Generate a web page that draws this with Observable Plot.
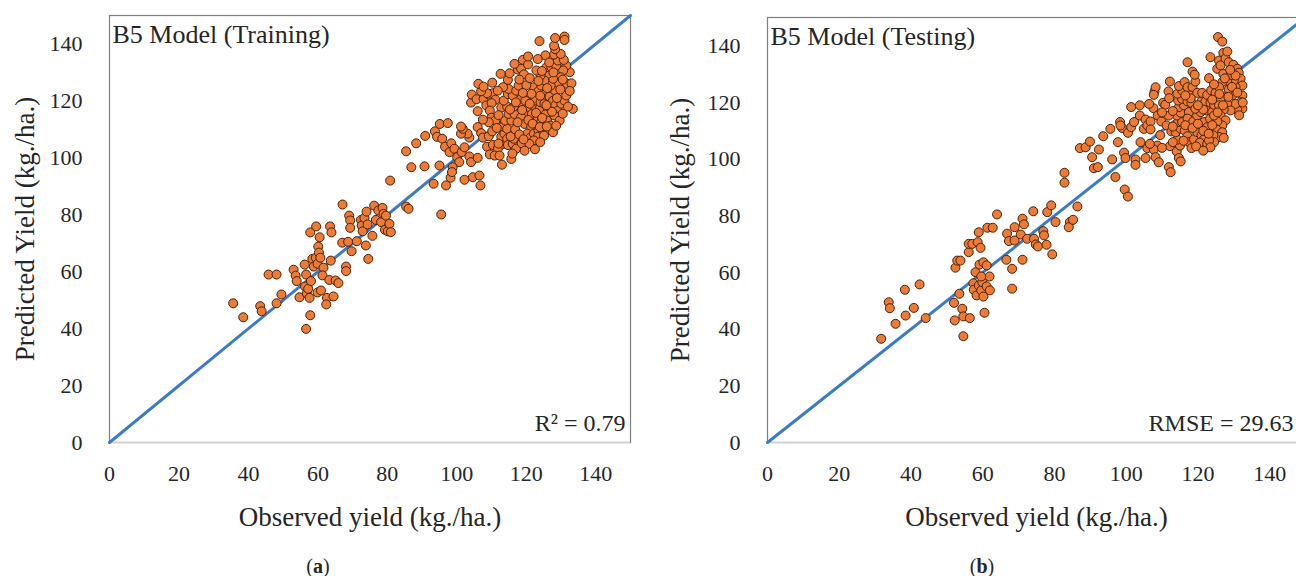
<!DOCTYPE html>
<html><head><meta charset="utf-8">
<script src="https://cdn.jsdelivr.net/npm/d3@7"></script>
<script src="https://cdn.jsdelivr.net/npm/@observablehq/plot@0.6"></script>
<style>
body{margin:0;width:1296px;height:576px;overflow:hidden;background:#fff;position:relative;font-family:"Liberation Serif",serif;color:#262626}
#a,#b{position:absolute;top:0}
#a{left:0px;width:650px}
#b{left:660px;width:660px}
svg{max-width:none !important}
.cap{position:absolute;top:555px;font-size:20px;transform:translateX(-50%);line-height:22px}
</style></head><body>
<div id="a"></div><div id="b"></div>
<div class="cap" style="left:318px">(<b>a</b>)</div>
<div class="cap" style="left:982px">(<b>b</b>)</div>
<script>
const xTicks = [0, 20, 40, 60, 80, 100, 120, 140];
const yTicks = [0, 20, 40, 60, 80, 100, 120, 140];
const refLineX = [0, 150];
const refLineY = [0, 150];
const xTitle = "Observed yield (kg./ha.)";
const yTitle = "Predicted Yield (kg./ha.)";
const titleA = "B5 Model (Training)";
const titleB = "B5 Model (Testing)";
const statA = "R² = 0.79";
const statB = "RMSE = 29.63";

const trainObserved = [35.6,38.5,43.4,43.8,45.8,48.1,48.1,49.5,53.0,53.6,53.9,54.7,56.2,56.3,56.6,56.8,57.2,57.6,58.0,56.6,57.8,58.4,58.8,59.4,59.9,60.1,60.3,60.7,61.6,61.3,59.9,60.9,62.6,62.4,63.3,64.5,65.1,65.9,63.7,57.8,59.5,60.5,63.5,63.9,67.1,67.0,68.7,69.0,69.3,69.3,69.7,68.1,68.1,71.2,72.4,72.6,72.9,73.4,74.0,74.3,73.8,74.5,75.7,76.2,76.7,77.4,78.2,78.6,78.9,79.6,79.3,80.1,80.6,81.0,80.8,85.4,86.1,86.9,90.7,93.3,95.0,95.5,
85.4,88.3,90.9,93.7,95.1,97.4,94.3,95.8,96.6,98.4,97.9,99.3,100.1,100.7,101.4,102.2,98.8,98.2,98.6,96.9,102.2,104.6,106.5,106.8,103.6,104.1,106.0,103.6,103.1,101.2,101.7,101.2,106.0,107.0,106.0,104.1,104.3,105.7,107.7,108.5,109.2,110.4,111.1,110.0,110.2,109.5,110.0,111.1,109.2,107.5,107.5,109.2,110.2,108.7,110.4,111.8,113.3,109.5,110.9,113.0,115.7,112.3,112.8,113.7,114.5,114.7,116.1,117.1,116.4,118.7,113.3,114.5,113.9,115.7,114.9,116.6,112.8,114.5,116.4,113.5,114.7,116.1,114.9,117.1,117.8,114.7,115.2,112.6,117.6,118.5,119.0,120.5,119.3,118.3,119.0,119.7,120.3,120.9,121.6,118.5,119.5,120.6,121.4,120.3,121.2,122.2,122.9,123.3,124.3,123.5,124.8,123.3,122.2,120.9,122.6,123.8,122.4,124.1,125.2,126.2,126.7,125.5,126.0,127.0,126.2,127.7,125.1,122.2,123.5,124.3,125.5,126.7,127.7,128.3,129.1,128.1,129.6,128.6,130.1,131.0,131.5,133.4,131.8,133.0,132.5,131.5,130.6,129.9,129.1,128.3,127.0,127.7,126.2,125.2,124.1,122.9,125.8,127.2,128.6,129.1,130.8,128.0,129.9,128.3,128.0,131.0,128.3,131.0,123.8,125.5,123.3,120.5,116.6,113.3,111.8,108.7,107.0,106.2,107.7,
115.5,116.8,118.0,119.2,117.5,118.8,121.8,122.8,123.9,125.9,124.6,127.4,125.8,124.0,121.5,120.0,121.0,123.5,126.0,128.8,129.8,130.5,127.8,126.6,124.5,119.0,117.0,115.3,112.0,111.5,112.0,116.0,119.5,122.5,124.0,121.0,118.0,130.5,132.0,132.5];
const trainPredicted = [48.9,44.0,47.9,46.1,59.0,59.0,48.9,52.0,60.7,58.6,56.7,51.0,62.5,54.8,59.0,52.4,54.0,50.8,56.7,39.9,44.7,64.5,61.8,64.9,62.8,68.8,66.7,64.9,61.4,58.7,52.7,53.4,50.8,48.5,57.1,51.3,56.9,56.0,63.9,73.8,75.9,72.1,75.9,73.8,83.6,70.2,70.5,79.7,78.0,75.4,67.2,61.8,60.2,70.7,78.2,76.2,74.2,78.9,81.1,76.6,69.2,64.5,72.6,83.2,78.2,81.5,77.4,82.4,80.3,79.7,74.7,74.2,76.8,73.9,92.0,82.9,82.1,96.7,97.0,90.9,97.3,80.1,
102.3,105.1,107.7,109.3,111.9,112.2,107.4,106.7,103.9,105.1,102.0,103.2,100.2,98.5,102.0,103.7,96.7,93.0,95.0,90.3,92.3,93.2,93.8,90.3,100.5,98.5,100.0,107.1,108.5,108.5,110.2,111.0,110.8,108.7,116.4,119.4,122.2,120.6,120.7,118.4,122.2,122.7,120.4,119.2,126.4,116.6,114.1,113.1,112.5,113.4,107.1,107.6,109.3,103.9,104.5,103.2,104.9,101.2,100.8,97.6,99.6,100.8,107.4,108.5,106.7,104.5,104.9,103.2,106.7,105.1,111.0,110.2,113.1,113.1,115.4,115.4,117.7,118.0,118.0,120.1,122.4,121.9,124.2,123.6,125.4,127.4,129.7,129.5,131.0,131.3,134.4,132.8,129.3,120.4,118.4,120.1,116.0,117.8,115.4,114.3,111.9,113.3,110.9,108.5,107.1,108.5,111.9,114.3,112.6,109.6,109.6,107.4,106.1,104.9,118.0,117.2,120.1,119.5,119.0,117.2,114.9,115.2,113.1,111.3,109.6,109.0,107.8,124.8,123.4,125.4,122.5,121.5,120.1,118.4,116.6,114.9,113.1,111.3,119.0,120.1,121.9,117.2,126.0,126.2,130.1,132.4,130.7,128.3,126.0,123.6,125.4,127.8,129.5,127.2,128.9,130.7,131.8,131.8,132.4,134.2,134.4,136.3,136.5,138.2,139.4,142.6,142.1,141.4,141.0,136.0,134.7,135.6,133.0,124.8,123.6,122.7,123.4,126.0,125.0,
107.5,110.0,108.2,106.5,112.5,116.8,112.0,115.8,110.8,111.0,114.0,116.2,118.5,121.8,122.5,125.5,128.0,127.0,124.5,121.0,124.0,127.5,130.0,133.5,130.5,122.8,119.5,117.0,115.0,110.5,105.0,101.5,102.5,103.0,105.5,119.0,127.5,115.5,118.0,123.5];

const testObserved = [31.7,33.8,34.1,35.7,38.3,38.5,40.8,42.4,44.1,52.0,53.5,52.2,54.3,54.6,56.4,54.6,60.5,52.4,52.9,53.8,56.1,56.1,57.1,58.6,59.4,58.9,61.3,62.8,64.0,58.0,59.1,60.2,61.1,61.9,57.4,57.5,58.3,58.9,59.6,59.9,60.2,61.1,62.0,59.6,66.6,68.2,68.2,71.1,66.8,67.3,68.9,68.9,70.6,71.1,71.5,72.4,74.1,74.3,74.8,75.4,76.9,77.1,77.8,78.0,79.1,79.4,80.3,82.8,82.8,84.3,84.0,85.2,86.4,
87.1,88.7,89.9,90.5,91.0,92.1,92.4,93.6,95.6,96.1,97.0,97.7,98.3,98.9,99.4,99.8,99.6,100.5,100.5,101.4,101.4,102.2,102.6,102.6,103.8,103.8,104.0,104.9,105.4,105.9,105.4,105.9,106.8,107.6,106.8,107.9,108.2,107.7,108.7,107.7,108.2,109.1,106.6,108.8,109.8,110.3,110.9,111.8,112.2,111.9,112.4,111.3,112.6,112.2,114.1,114.7,115.2,115.0,114.3,113.8,115.2,114.5,115.6,114.1,115.2,114.7,116.1,114.5,115.6,114.3,115.6,114.7,116.3,117.1,118.5,117.8,117.1,118.2,117.5,117.1,116.3,117.1,117.5,118.2,118.9,119.1,118.7,119.8,120.8,119.3,119.8,121.0,121.7,120.5,122.6,121.7,122.6,123.4,122.4,124.0,121.0,122.1,123.5,124.5,119.8,121.2,122.6,123.7,124.9,123.1,123.5,125.4,125.9,126.3,127.1,127.7,128.2,127.1,125.6,126.8,128.6,129.9,131.0,131.4,131.9,132.4,132.4,131.9,132.4,131.0,130.5,129.6,130.5,130.0,129.1,128.2,128.6,127.7,128.2,129.1,127.2,126.3,127.7,126.8,125.4,125.2,126.8,125.9,124.3,124.5,123.1,123.5,127.2,126.3,125.9,124.5,126.8,125.9,124.5,119.3,118.5,119.1,117.1,98.4,106.4,111.9,
113.0,116.5,118.5,120.0,121.5,123.0,124.0,125.5,127.0,128.5,129.5,131.0,130.5,129.0,127.5,126.0,124.0,121.5,120.0,118.0,116.5,113.0,112.0,110.0,109.5,110.0,113.0,116.0,119.5,121.5,132.5,131.5];
const testPredicted = [36.6,49.5,47.4,41.9,53.9,44.8,47.5,55.8,43.9,49.3,52.5,43.1,47.2,44.5,43.9,37.5,45.8,61.7,64.2,64.2,67.2,70.1,70.1,70.7,68.7,74.2,75.8,75.8,80.5,60.1,62.8,63.6,62.5,58.6,56.2,53.9,51.9,55.4,53.7,56.6,51.5,55.1,53.7,58.6,64.5,61.3,54.3,64.5,73.7,71.1,71.3,76.0,73.4,79.0,77.0,71.9,81.6,71.9,69.9,69.2,74.6,73.1,69.8,81.3,83.7,66.4,77.8,95.2,91.7,77.8,76.0,78.6,83.3,
103.9,104.2,106.2,100.7,96.8,97.2,103.4,108.1,110.7,99.9,93.7,106.0,113.1,111.0,102.3,100.4,89.3,86.8,109.3,111.3,118.4,113.1,99.9,98.0,119.0,115.4,106.0,110.7,114.0,103.9,100.4,111.9,113.3,118.0,110.5,123.9,125.4,122.7,104.8,103.4,100.7,98.9,105.4,115.4,113.3,119.9,119.2,123.9,127.4,97.2,95.4,111.9,109.8,104.6,102.7,100.4,99.2,104.8,106.9,109.5,110.7,113.1,113.1,115.4,116.4,118.4,119.0,120.7,121.3,123.1,124.3,125.8,127.2,125.4,125.4,122.5,120.4,119.9,116.6,114.3,110.1,108.1,106.0,103.9,107.0,110.7,113.3,115.4,116.6,117.8,109.5,108.4,107.0,105.8,105.4,113.1,111.3,114.3,117.2,116.6,120.4,120.4,119.9,119.2,123.4,123.4,122.7,124.3,123.4,128.6,136.0,131.9,134.8,133.1,137.5,135.6,138.0,130.1,143.1,141.5,134.2,133.3,131.9,130.5,128.4,126.0,122.5,120.1,117.8,117.2,119.5,122.5,125.4,127.8,129.6,127.2,124.6,121.9,119.5,117.2,117.5,115.4,113.7,111.9,113.3,110.5,109.5,107.8,108.4,106.0,106.6,104.2,107.5,121.3,119.0,115.4,127.2,125.4,126.4,127.4,130.9,129.8,134.2,111.9,119.5,115.4,
111.5,112.0,111.0,112.5,110.0,109.0,112.0,116.5,119.0,122.0,125.5,123.5,129.5,131.5,128.5,123.0,121.0,117.5,119.0,121.5,122.5,117.0,121.5,116.5,108.5,104.0,106.0,106.5,104.5,103.0,120.0,115.5];

function panel(opts) {
  const pts = opts.obs.map((o, i) => ({o, p: opts.pred[i]}));
  const ref = refLineX.map((x, i) => ({x, y: refLineY[i]}));
  return Plot.plot({
    width: opts.width, height: 540,
    marginLeft: opts.marginLeft, marginRight: opts.marginRight,
    marginTop: opts.marginTop, marginBottom: 98,
    x: {domain: [0, 150]},
    y: {domain: [0, 150]},
    style: {fontFamily: "Liberation Serif, serif", fontSize: "22px", color: "#262626", background: "#fff"},
    marks: [
      Plot.frame({stroke: "#7f7f7f", strokeWidth: 1.2}),
      Plot.ruleY([0], {stroke: "#d0d0d0", strokeWidth: 1.5}),
      Plot.axisX({ticks: xTicks, tickSize: 0, tickPadding: 23, label: null, fontSize: 22}),
      Plot.axisY({ticks: yTicks, tickSize: 0, tickPadding: 27, label: null, fontSize: 22}),
      Plot.line(ref, {x: "x", y: "y", stroke: "#3b7bc8", strokeWidth: 3}),
      Plot.dot(pts, {x: "o", y: "p", r: 4.5, fill: "#ec7b37", stroke: "#4a2108", strokeWidth: 1}),
      Plot.text([opts.title], {text: d => d, frameAnchor: "top-left", dx: 3, dy: 9, textAnchor: "start", lineAnchor: "top", fontSize: 26}),
      Plot.text([opts.stat], {text: d => d, frameAnchor: "bottom-right", dx: opts.statDx, dy: -12, textAnchor: "end", lineAnchor: "bottom", fontSize: 24}),
      Plot.text([xTitle], {text: d => d, frameAnchor: "bottom", dy: 75, textAnchor: "middle", lineAnchor: "middle", fontSize: 27}),
      Plot.text([yTitle], {text: d => d, frameAnchor: "left", dx: opts.yTitleDx, rotate: -90, textAnchor: "middle", lineAnchor: "middle", fontSize: 27})
    ]
  });
}

document.getElementById("a").append(panel({
  obs: trainObserved, pred: trainPredicted, title: titleA, stat: statA,
  width: 650, marginLeft: 109, marginRight: 20, marginTop: 15, yTitleDx: -84, statDx: -5
}));
document.getElementById("b").append(panel({
  obs: testObserved, pred: testPredicted, title: titleB, stat: statB,
  width: 660, marginLeft: 107, marginRight: 15, marginTop: 17, yTitleDx: -87, statDx: -12
}));
</script>
</body></html>
